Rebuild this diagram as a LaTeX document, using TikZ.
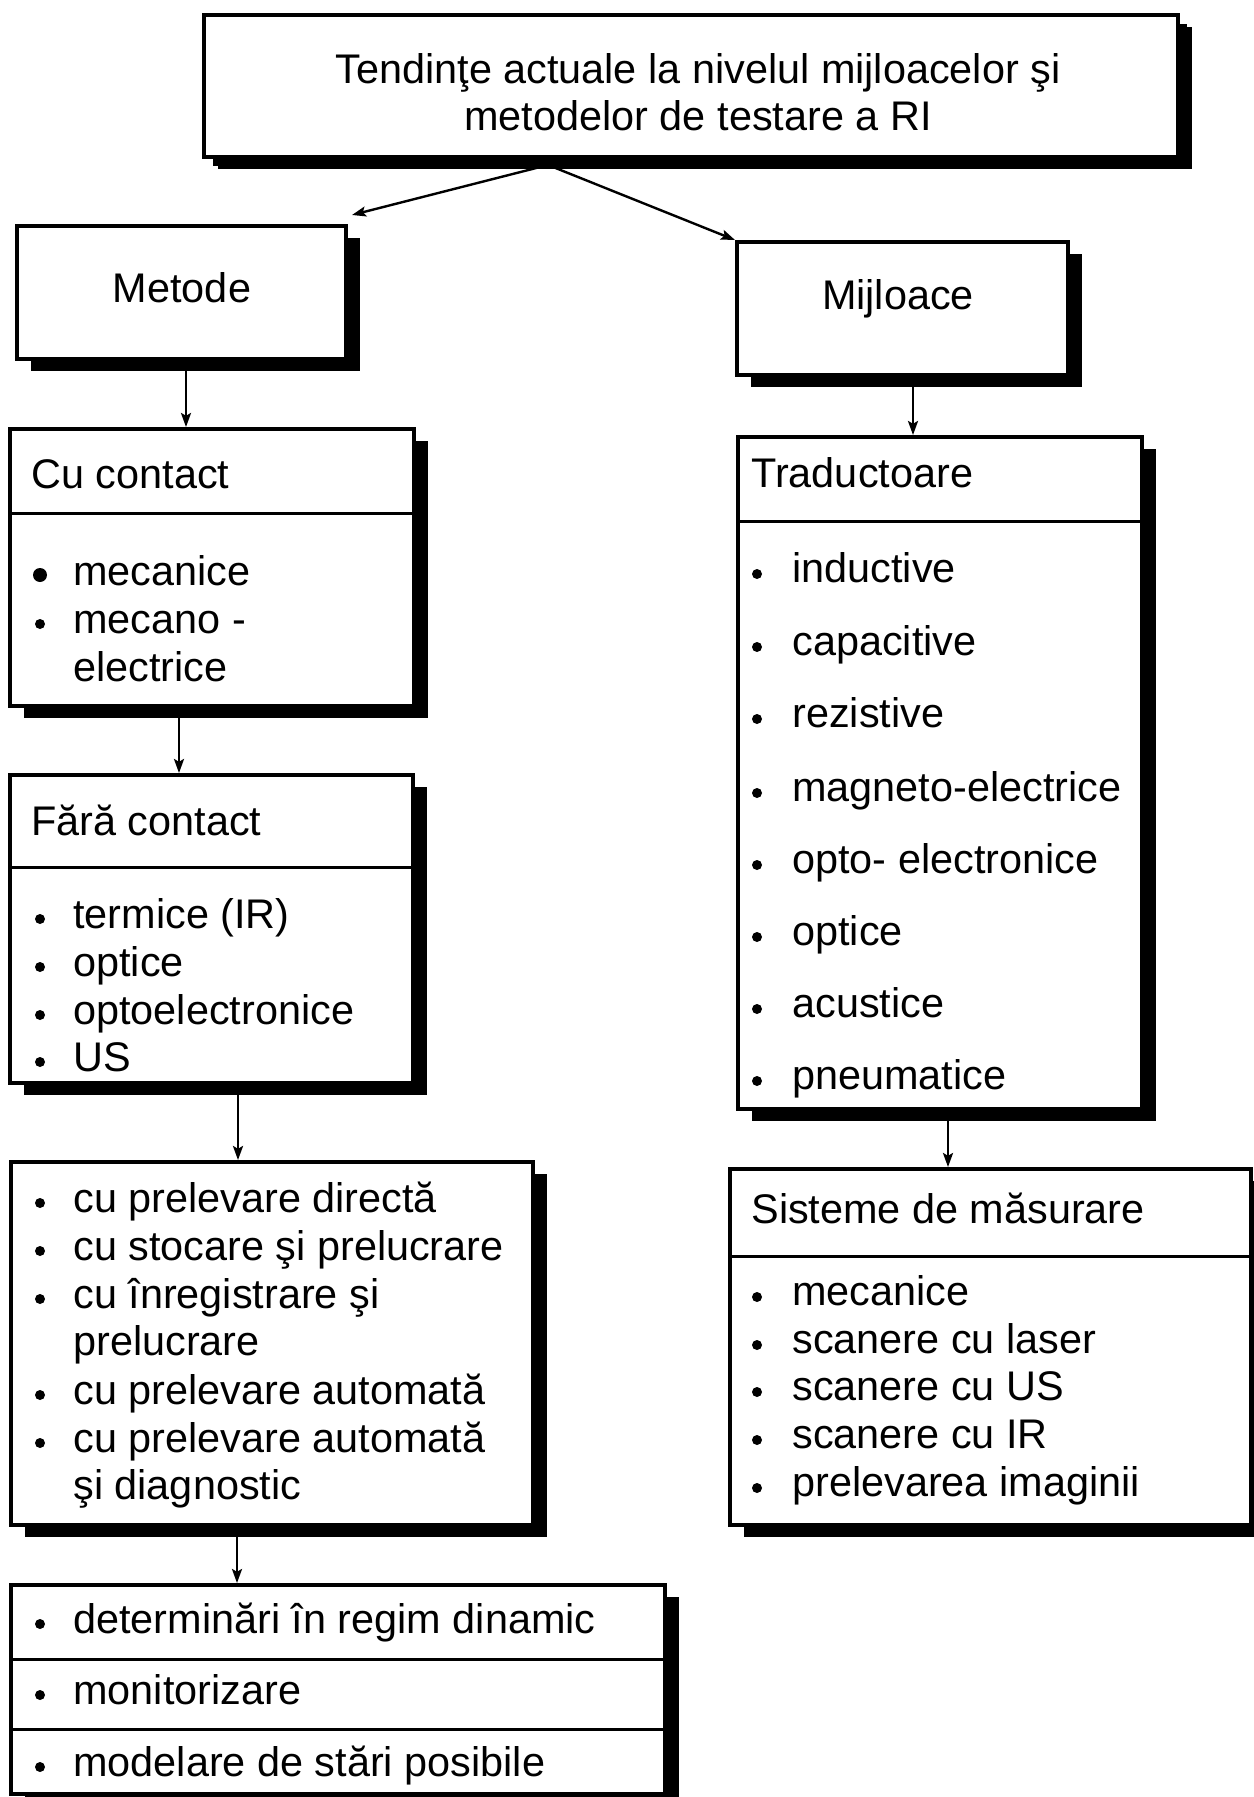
\documentclass[tikz,border=0pt]{standalone}
\usepackage{fontspec}
\setmainfont{Liberation Sans}
\usetikzlibrary{arrows.meta,shadows,fit}

\begin{document}
\begin{tikzpicture}[x=0.5pt,y=-0.5pt,
  box/.style={draw, line width=2pt, fill=white, inner sep=0pt,
    drop shadow={shadow xshift=7pt, shadow yshift=-6pt, fill=black, opacity=1}},
  topbox/.style={box, line width=2.2pt,
    drop shadow={shadow xshift=4.5pt, shadow yshift=-4.5pt, fill=black, opacity=1}},
  div/.style={line width=1.5pt},
  txt/.style={inner sep=0pt, font=\fontsize{20.7}{24}\selectfont, yshift=-3pt},
  item/.style={txt, anchor=mid west, yshift=-1pt},
  conn/.style={line width=1.2pt, -{Stealth[length=7pt,width=5pt,inset=1.4pt]}},
]
\useasboundingbox (0,0) rectangle (1253,1797);

% ---------- boxes ----------
\node[topbox, fit={(204,15) (1178,157)}] (title) {};
\node[box, fit={(17,226) (346,359)}] (metode) {};
\node[box, fit={(737,242) (1068,375)}] (mijloace) {};
\node[box, fit={(10,429) (414,706)}] (cu) {};
\node[box, fit={(10,775) (413,1083)}] (fara) {};
\node[box, fit={(11,1162) (533,1525)}] (lst) {};
\node[box, fit={(11,1585) (665,1794)}] (bot) {};
\node[box, fit={(738,437) (1142,1109)}] (trad) {};
\node[box, fit={(730,1169) (1251,1525)}] (sis) {};

% ---------- dividers ----------
\coordinate (cuD) at (0,513);
\coordinate (faraD) at (0,867);
\coordinate (botD1) at (0,1659);
\coordinate (botD2) at (0,1729);
\coordinate (tradD) at (0,521);
\coordinate (sisD) at (0,1256);
\draw[div] (cu.west |- cuD) -- (cu.east |- cuD);
\draw[div] (fara.west |- faraD) -- (fara.east |- faraD);
\draw[div] (bot.west |- botD1) -- (bot.east |- botD1);
\draw[div] (bot.west |- botD2) -- (bot.east |- botD2);
\draw[div] (trad.west |- tradD) -- (trad.east |- tradD);
\draw[div] (sis.west |- sisD) -- (sis.east |- sisD);

% ---------- titles ----------
\node[txt, anchor=mid] (t1) at (698,72) {Tendinţe actuale la nivelul mijloacelor şi};
\node[txt, anchor=mid] (t2) at (698,119) {metodelor de testare a RI};
\node[txt, anchor=mid] (metodeL) at (182,291) {Metode};
\node[txt, anchor=mid] (mijloaceL) at (898,298) {Mijloace};

% ---------- Cu contact ----------
\node[item] (cuh) at (31,475) {Cu contact};
\node[item] (cu1) at (73,572) {mecanice};
\node[item] (cu2) at (73,620) {mecano -};
\node[item] (cu3) at (73,668) {electrice};
\fill (40,575) circle[radius=7];
\fill (40,624) circle[radius=5];

% ---------- Fara contact ----------
\node[item] (farah) at (31,822) {Fără contact};
\node[item] (fara1) at (73,915) {termice (IR)};
\node[item] (fara2) at (73,963) {optice};
\node[item] (fara3) at (73,1011) {optoelectronice};
\node[item] (fara4) at (73,1058) {US};
\foreach \yy in {919,967,1015,1062} \fill (40,\yy) circle[radius=5];

% ---------- processing list ----------
\node[item] (l1) at (73,1199) {cu prelevare directă};
\node[item] (l2) at (73,1247) {cu stocare şi prelucrare};
\node[item] (l3) at (73,1295) {cu înregistrare şi};
\node[item] (l4) at (73,1342) {prelucrare};
\node[item] (l5) at (73,1391) {cu prelevare automată};
\node[item] (l6) at (73,1439) {cu prelevare automată};
\node[item] (l7) at (73,1486) {şi diagnostic};
\foreach \yy in {1203,1251,1299,1395,1443} \fill (40,\yy) circle[radius=5];

% ---------- bottom box ----------
\node[item] (b1) at (73,1620) {determinări în regim dinamic};
\node[item] (b2) at (73,1691) {monitorizare};
\node[item] (b3) at (73,1763) {modelare de stări posibile};
\foreach \yy in {1624,1695,1767} \fill (40,\yy) circle[radius=5];

% ---------- Traductoare ----------
\node[item] (tradh) at (751,474) {Traductoare};
\node[item] (tr1) at (792,569) {inductive};
\node[item] (tr2) at (792,642) {capacitive};
\node[item] (tr3) at (792,714) {rezistive};
\node[item] (tr4) at (792,788) {magneto-electrice};
\node[item] (tr5) at (792,860) {opto- electronice};
\node[item] (tr6) at (792,932) {optice};
\node[item] (tr7) at (792,1004) {acustice};
\node[item] (tr8) at (792,1076) {pneumatice};
\foreach \yy in {574,647,719,793,865,937,1009,1081} \fill (757,\yy) circle[radius=5];

% ---------- Sisteme de masurare ----------
\node[item] (sish) at (751,1210) {Sisteme de măsurare};
\node[item] (s1) at (792,1292) {mecanice};
\node[item] (s2) at (792,1340) {scanere cu laser};
\node[item] (s3) at (792,1387) {scanere cu US};
\node[item] (s4) at (792,1435) {scanere cu IR};
\node[item] (s5) at (792,1483) {prelevarea imaginii};
\foreach \yy in {1297,1345,1392,1440,1488} \fill (757,\yy) circle[radius=5];

% ---------- connectors ----------
\coordinate (split) at (548,165);
\coordinate (xa) at (186,0);
\coordinate (xb) at (913,0);
\coordinate (xc) at (179,0);
\coordinate (xd) at (238,0);
\coordinate (xe) at (237,0);
\coordinate (xf) at (948,0);
\draw[conn] (split) -- ([shift={(4,-9)}]metode.north east);
\draw[conn] (split) -- (mijloace.north west);
\draw[conn] (metode.south -| xa) -- (cu.north -| xa);
\draw[conn] (mijloace.south -| xb) -- (trad.north -| xb);
\draw[conn] (cu.south -| xc) -- (fara.north -| xc);
\draw[conn] (fara.south -| xd) -- (lst.north -| xd);
\draw[conn] (lst.south -| xe) -- (bot.north -| xe);
\draw[conn] (trad.south -| xf) -- (sis.north -| xf);
\end{tikzpicture}
\end{document}
